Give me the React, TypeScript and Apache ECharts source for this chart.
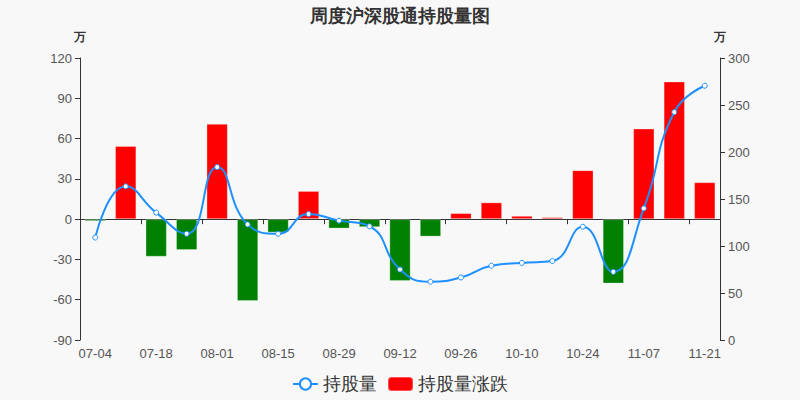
import React, { useEffect, useRef } from "react";
import * as echarts from "echarts";

const categories = [
  "07-04", "07-11", "07-18", "07-25", "08-01", "08-08", "08-15", "08-22", "08-29", "09-05",
  "09-12", "09-19", "09-26", "10-03", "10-10", "10-17", "10-24", "10-31", "11-07", "11-14", "11-21",
];
const holdings = [
  109, 163.5, 135.5, 113, 184, 123, 113, 134, 127, 121,
  75, 62, 66.5, 79, 82, 84, 120.5, 72.5, 140, 242.5, 270.5,
];
const changes = [
  -1.5, 54.5, -28, -23, 71, -61, -10, 21, -7, -6,
  -46, -13, 4.5, 12.5, 2.5, 1.5, 36.5, -48, 67.5, 102.5, 27.5,
];
const leftTicks = { min: -90, max: 120, interval: 30 };
const rightTicks = { min: 0, max: 300, interval: 50 };

export default function App() {
  const ref = useRef<HTMLDivElement>(null);
  useEffect(() => {
    const chart = echarts.init(ref.current!, null, { renderer: "svg" });
    const font = "sans-serif";
    chart.setOption({
      animation: false,
      backgroundColor: "#f8f8f8",
      textStyle: { fontFamily: font },
      title: {
        text: "周度沪深股通持股量图",
        left: "center",
        top: 2,
        textStyle: { fontSize: 18, fontWeight: "bold", color: "#333" },
      },
      legend: {
        bottom: 2,
        left: "center",
        itemWidth: 25,
        itemHeight: 14,
        itemGap: 10,
        textStyle: { fontSize: 18, color: "#333" },
        data: [
          { name: "持股量" },
          { name: "持股量涨跌", icon: "roundRect" },
        ],
      },
      grid: { left: 80, right: 80, top: 58, bottom: 60 },
      xAxis: [
        {
          type: "category",
          data: categories,
          position: "bottom",
          axisLine: { show: false, onZero: false },
          axisTick: { show: false },
          axisLabel: { interval: 1, color: "#555", fontSize: 13, margin: 7 },
        },
        {
          type: "category",
          data: categories,
          position: "bottom",
          axisLine: { show: true, onZero: true, onZeroAxisIndex: 0, lineStyle: { color: "#333" } },
          axisTick: { show: true, interval: 1, lineStyle: { color: "#333" } },
          axisLabel: { show: false },
        },
      ],
      yAxis: [
        {
          type: "value",
          name: "万",
          nameTextStyle: { color: "#333", fontWeight: "bold", fontSize: 12 },
          ...leftTicks,
          splitLine: { show: false },
          axisLine: { show: true, lineStyle: { color: "#333" } },
          axisTick: { show: true },
          axisLabel: { color: "#555", fontSize: 13 },
        },
        {
          type: "value",
          name: "万",
          position: "right",
          nameTextStyle: { color: "#333", fontWeight: "bold", fontSize: 12 },
          ...rightTicks,
          splitLine: { show: false },
          axisLine: { show: true, lineStyle: { color: "#333" } },
          axisTick: { show: true },
          axisLabel: { color: "#555", fontSize: 13 },
        },
      ],
      series: [
        {
          name: "持股量",
          type: "line",
          yAxisIndex: 1,
          xAxisIndex: 0,
          smooth: true,
          data: holdings,
          symbol: "circle",
          symbolSize: 5,
          itemStyle: { color: "#fff", borderColor: "#1e90ff", borderWidth: 1 },
          lineStyle: { color: "#1e90ff", width: 2 },
          z: 3,
        },
        {
          name: "持股量涨跌",
          type: "bar",
          yAxisIndex: 0,
          xAxisIndex: 0,
          barWidth: "70%",
          data: changes.map((v) => ({
            value: v,
            itemStyle: { color: v >= 0 ? "#ff0000" : "#008000" },
          })),
          itemStyle: { color: "#ff0000", borderColor: "rgba(255,255,255,0.3)", borderWidth: 1 },
          z: 2,
        },
      ],
    });
    return () => chart.dispose();
  }, []);
  return <div ref={ref} style={{ width: 800, height: 400, position: "absolute", left: 0, top: 0 }} />;
}
